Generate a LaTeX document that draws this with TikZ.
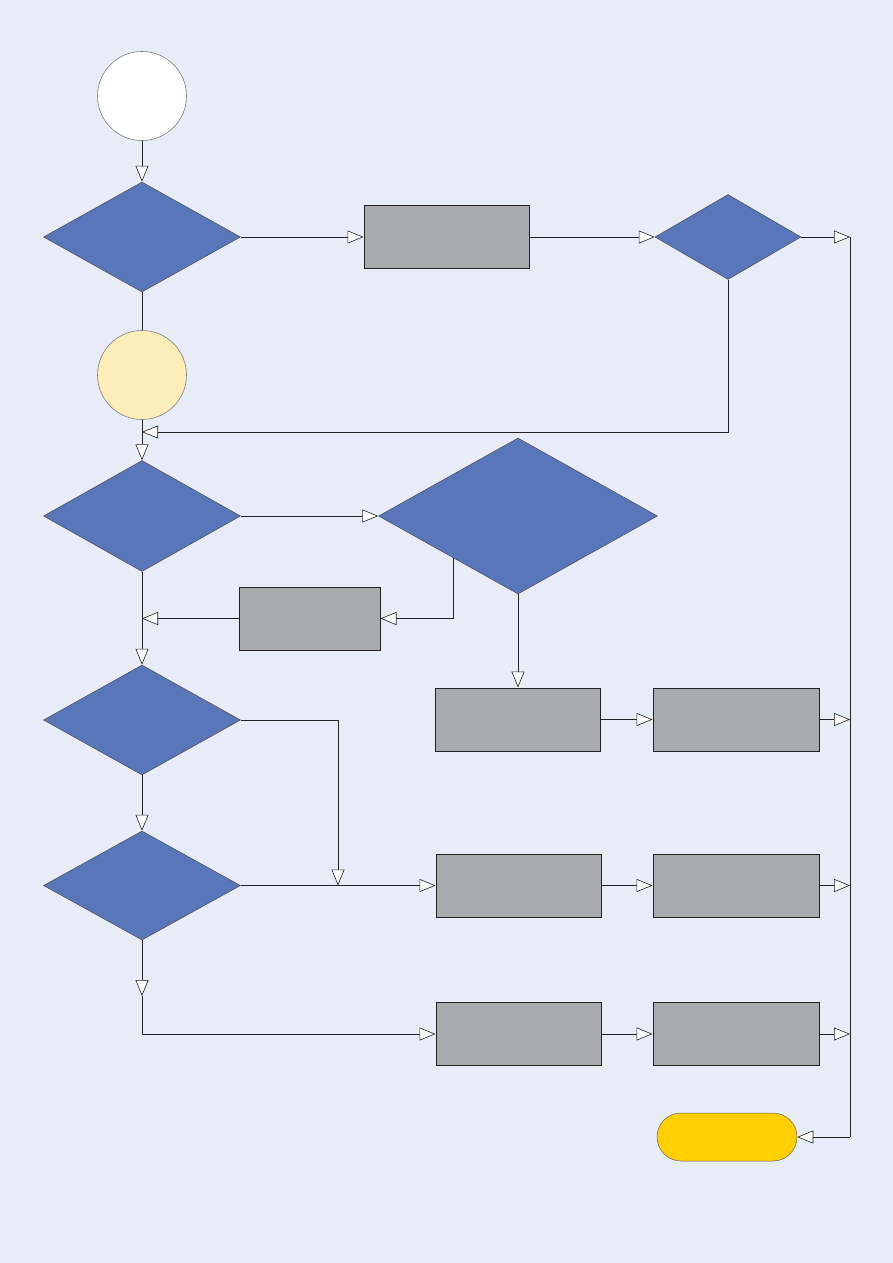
\documentclass[tikz,border=0pt]{standalone}
\usetikzlibrary{shapes.geometric,arrows.meta,calc}
\definecolor{bg}{HTML}{E8ECF7}
\definecolor{dia}{HTML}{5876B9}
\definecolor{boxg}{HTML}{A9AAAD}
\definecolor{cream}{HTML}{FDEDB8}
\definecolor{gold}{HTML}{FFCF00}
\definecolor{ln}{HTML}{222222}
\begin{document}
\begin{tikzpicture}[x=1pt,y=-1pt,
  dec/.style={diamond,draw=ln!80,line width=0.5pt,fill=dia,inner sep=0pt},
  boxn/.style={rectangle,draw=ln,line width=1pt,fill=boxg,inner sep=0pt,minimum width=165pt,minimum height=63pt},
  circn/.style={circle,draw=gray,line width=0.6pt,inner sep=0pt,minimum size=89pt},
  conn/.style={draw=ln,line width=0.8pt},
  arr/.style={conn,-{Triangle[length=16pt,width=13pt,fill=white,line width=0.6pt]}}]
\fill[bg] (0,0) rectangle (893,1263);
\useasboundingbox (0,0) rectangle (893,1263);
% nodes
\node[circn,fill=white] (start) at (142,96) {};
\node[dec,minimum width=197pt,minimum height=110pt] (d1) at (142,237) {};
\node[boxn] (r1) at (446.5,237) {};
\node[dec,minimum width=146pt,minimum height=85pt] (d2) at (728,237) {};
\node[circn,fill=cream] (c2) at (142,375) {};
\node[dec,minimum width=197pt,minimum height=111pt] (d3) at (142,516) {};
\node[dec,minimum width=279pt,minimum height=156pt] (d4) at (518,516) {};
\node[boxn,minimum width=141pt] (r2) at (309.5,618.5) {};
\node[dec,minimum width=197pt,minimum height=110pt] (d5) at (142,720) {};
\node[boxn] (r3) at (518,719.5) {};
\node[boxn,minimum width=166pt] (r4) at (736,719.5) {};
\node[dec,minimum width=197pt,minimum height=109pt] (d6) at (142,885.5) {};
\node[boxn] (r5) at (518.5,885.5) {};
\node[boxn,minimum width=166pt] (r6) at (736,885.5) {};
\node[boxn] (r7) at (518.5,1034) {};
\node[boxn,minimum width=166pt] (r8) at (736,1034) {};
\node[rectangle,rounded corners=24pt,draw=ln!70,line width=0.5pt,fill=gold,minimum width=140pt,minimum height=48pt,inner sep=0pt] (end) at (727,1137) {};
% helper coordinates
\coordinate (bus1) at (850,237);
\coordinate (bus2) at (850,719.5);
\coordinate (bus3) at (850,885.5);
\coordinate (bus4) at (850,1034);
\coordinate (bus5) at (850,1137);
\coordinate (back) at (142,432);
\coordinate (d4p) at ($(d4.west)!0.536!(d4.south)$);
\coordinate (r2j) at (142,618.5);
\coordinate (jn) at (338,885.5);
\coordinate (m6) at (142,996);
% connectors
\draw[arr] (start) -- (d1.north);
\draw[arr] (d1.east) -- (r1.west);
\draw[arr] (r1.east) -- (d2.west);
\draw[arr] (d2.east) -- (bus1);
\draw[conn] (bus1) -- (bus5);
\draw[conn] (d1.south) -- (c2.north);
\draw[arr] (d2.south) |- (back);
\draw[arr] (c2.south) -- (d3.north);
\draw[arr] (d3.east) -- (d4.west);
\draw[arr] (d4p) |- (r2.east);
\draw[arr] (r2.west) -- (r2j);
\draw[arr] (d3.south) -- (d5.north);
\draw[arr] (d4.south) -- (r3.north);
\draw[arr] (r3.east) -- (r4.west);
\draw[arr] (r4.east) -- (bus2);
\draw[arr] (d5.east) -| (jn);
\draw[arr] (d5.south) -- (d6.north);
\draw[arr] (d6.east) -- (r5.west);
\draw[arr] (r5.east) -- (r6.west);
\draw[arr] (r6.east) -- (bus3);
\draw[arr] (d6.south) -- (m6);
\draw[arr] (m6) |- (r7.west);
\draw[arr] (r7.east) -- (r8.west);
\draw[arr] (r8.east) -- (bus4);
\draw[arr] (bus5) -- (end.east);
\end{tikzpicture}
\end{document}
